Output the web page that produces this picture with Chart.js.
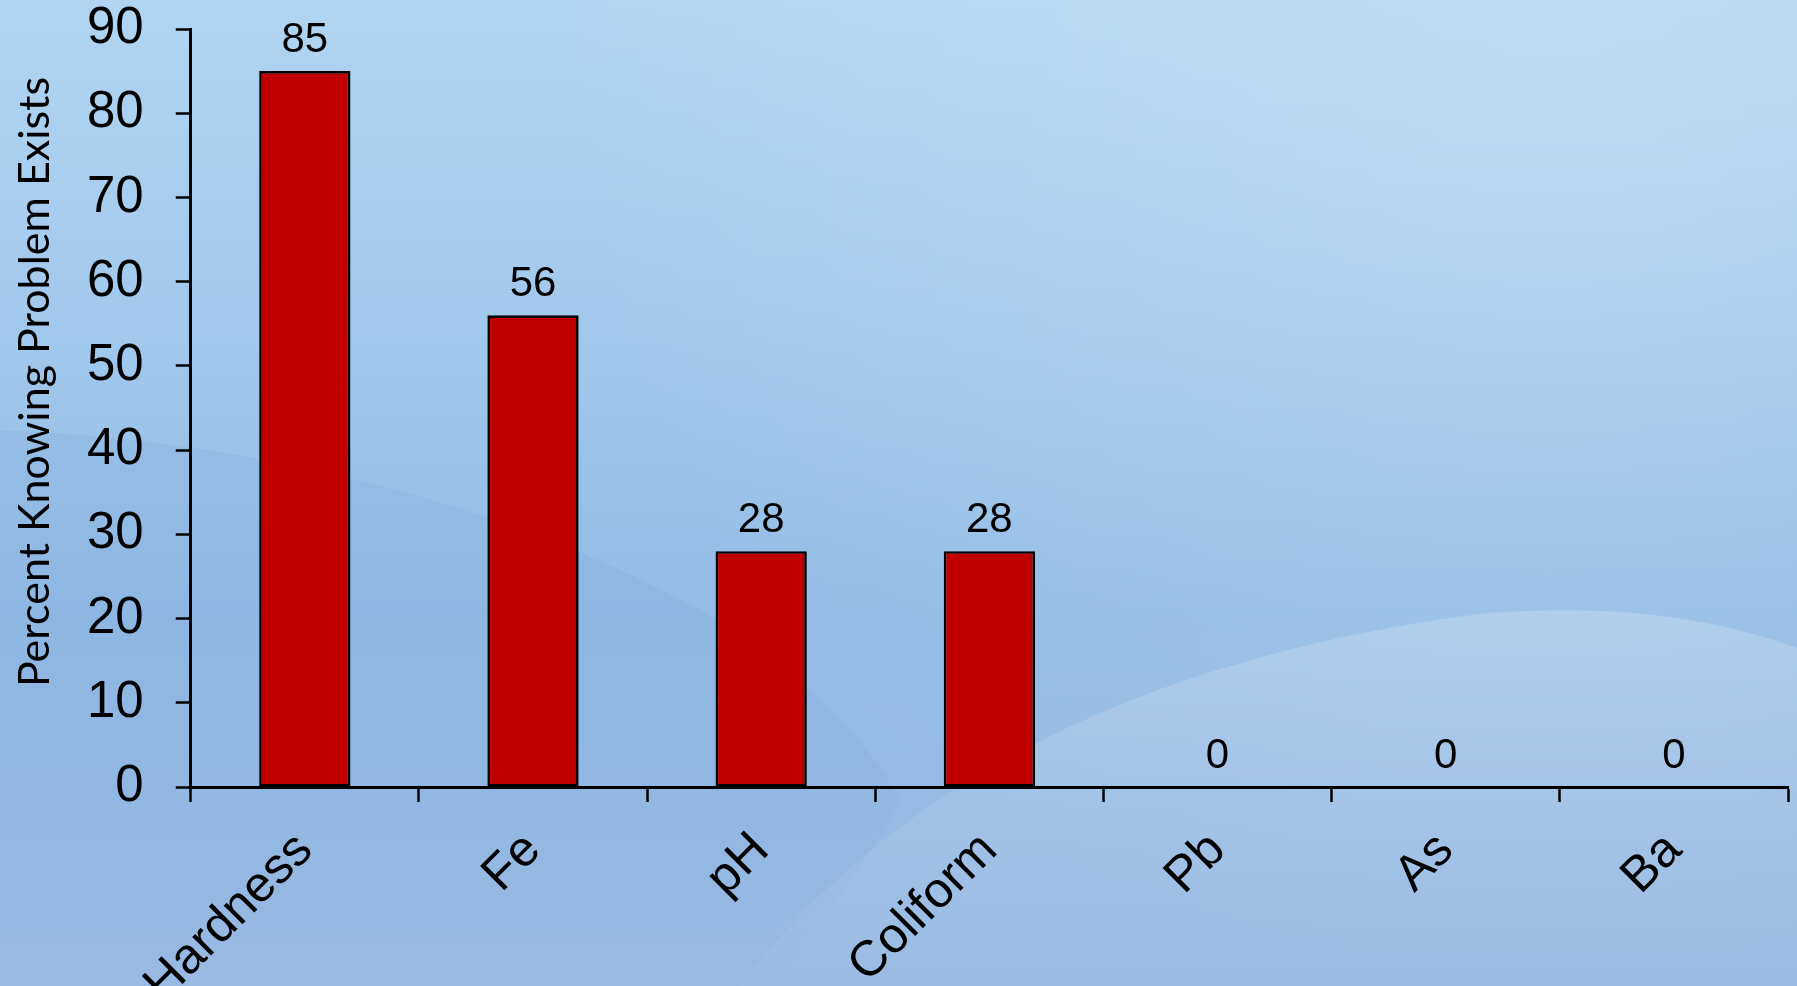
<!DOCTYPE html>
<html>
<head>
<meta charset="utf-8">
<script src="https://cdn.jsdelivr.net/npm/chart.js@4.4.0/dist/chart.umd.min.js"></script>
<style>
  html, body { margin: 0; padding: 0; overflow: hidden; background: #a7cbee; }
  #wrap { width: 1797px; height: 986px; position: relative; }
  canvas { display: block; }
</style>
</head>
<body>
<div id="wrap"><canvas id="chart" width="1797" height="986"></canvas></div>
<script>
// Water-quality problems known to well owners
const categories = ['Hardness', 'Fe', 'pH', 'Coliform', 'Pb', 'As', 'Ba'];
const percentKnowing = [85, 56, 28, 28, 0, 0, 0];
const yTickValues = [0, 10, 20, 30, 40, 50, 60, 70, 80, 90];
const yAxisTitle = 'Percent Knowing Problem Exists';

const ARIAL = '"Liberation Sans", Arial, Helvetica, sans-serif';

// Soft blue slide-style backdrop with gentle waves
const backdrop = {
  id: 'backdrop',
  beforeDraw(chart) {
    const { ctx, width: W, height: H } = chart;
    ctx.save();
    const g = ctx.createLinearGradient(0, 0, 0, H);
    g.addColorStop(0, '#b0d5f2');
    g.addColorStop(0.3, '#a3caee');
    g.addColorStop(0.62, '#93bde6');
    g.addColorStop(1, '#98bae3');
    ctx.fillStyle = g;
    ctx.fillRect(0, 0, W, H);

    // brighter haze towards the upper right
    const r = ctx.createRadialGradient(1550, 0, 40, 1550, 0, 1000);
    r.addColorStop(0, 'rgba(255,255,255,0.2)');
    r.addColorStop(1, 'rgba(255,255,255,0)');
    ctx.fillStyle = r;
    ctx.fillRect(0, 0, W, H);

    // darker sweep across the lower left, fading out downwards
    ctx.beginPath();
    ctx.moveTo(0, 430);
    ctx.bezierCurveTo(250, 440, 500, 500, 700, 610);
    ctx.bezierCurveTo(820, 680, 880, 760, 900, 800);
    ctx.bezierCurveTo(860, 880, 800, 940, 780, 986);
    ctx.lineTo(0, 986);
    ctx.closePath();
    const d = ctx.createLinearGradient(0, 430, 0, 986);
    d.addColorStop(0, 'rgba(60,105,180,0.08)');
    d.addColorStop(0.6, 'rgba(60,105,180,0.06)');
    d.addColorStop(1, 'rgba(60,105,180,0.0)');
    ctx.fillStyle = d;
    ctx.fill();

    // light wave rising on the right
    ctx.beginPath();
    ctx.moveTo(740, H);
    ctx.bezierCurveTo(880, 800, 1120, 660, 1480, 614);
    ctx.bezierCurveTo(1620, 602, 1720, 620, W, 648);
    ctx.lineTo(W, H);
    ctx.closePath();
    const l = ctx.createLinearGradient(0, 610, 0, H);
    l.addColorStop(0, 'rgba(255,255,255,0.2)');
    l.addColorStop(0.5, 'rgba(255,255,255,0.1)');
    l.addColorStop(1, 'rgba(255,255,255,0.03)');
    ctx.fillStyle = l;
    ctx.fill();
    ctx.restore();
  }
};

// Value printed above each bar
const valueLabels = {
  id: 'valueLabels',
  afterDatasetsDraw(chart) {
    const { ctx } = chart;
    const ds = chart.data.datasets[0];
    const meta = chart.getDatasetMeta(0);
    ctx.save();
    ctx.font = '42px ' + ARIAL;
    ctx.fillStyle = '#000';
    ctx.textAlign = 'center';
    ctx.textBaseline = 'alphabetic';
    meta.data.forEach((bar, i) => {
      ctx.fillText(String(ds.data[i]), bar.x, bar.y - 19);
    });
    ctx.restore();
  }
};

// Rotated y-axis title in a humanist face
const sideTitle = {
  id: 'sideTitle',
  afterDraw(chart) {
    const { ctx, chartArea } = chart;
    ctx.save();
    ctx.translate(35, (chartArea.top + chartArea.bottom) / 2 - 26);
    ctx.rotate(-Math.PI / 2);
    ctx.font = '43px Lato, "Open Sans", sans-serif';
    ctx.fillStyle = '#000';
    ctx.textAlign = 'center';
    ctx.textBaseline = 'middle';
    ctx.fillText(yAxisTitle, 0, 0);
    ctx.restore();
  }
};

new Chart(document.getElementById('chart'), {
  type: 'bar',
  data: {
    labels: categories,
    datasets: [{
      data: percentKnowing,
      backgroundColor: '#c00000',
      borderColor: '#000',
      borderWidth: 2.6,
      borderSkipped: false,
      barPercentage: 0.4,
      categoryPercentage: 1
    }]
  },
  options: {
    responsive: false,
    animation: false,
    devicePixelRatio: 1,
    layout: { padding: { left: 55, right: 9, top: 29, bottom: 0 } },
    plugins: { legend: { display: false }, tooltip: { enabled: false } },
    scales: {
      x: {
        grid: { display: true, drawOnChartArea: false, offset: true, tickLength: 15, tickColor: '#000', tickWidth: 2.5, color: '#000' },
        border: { display: true, color: '#000', width: 3 },
        ticks: { color: '#000', font: { size: 50, family: ARIAL }, minRotation: 45, maxRotation: 45, padding: 19, autoSkip: false },
        afterFit(scale) { scale.height = 199; }
      },
      y: {
        min: 0,
        max: 90,
        afterBuildTicks(scale) { scale.ticks = yTickValues.map(v => ({ value: v })); },
        afterFit(scale) { scale.paddingTop = 0; scale.paddingBottom = 0; },
        grid: { display: true, drawOnChartArea: false, tickLength: 15, tickColor: '#000', tickWidth: 2.5 },
        border: { display: true, color: '#000', width: 3 },
        ticks: { color: '#000', font: { size: 51, family: ARIAL }, padding: 32 }
      }
    }
  },
  plugins: [backdrop, valueLabels, sideTitle]
});
</script>
</body>
</html>
